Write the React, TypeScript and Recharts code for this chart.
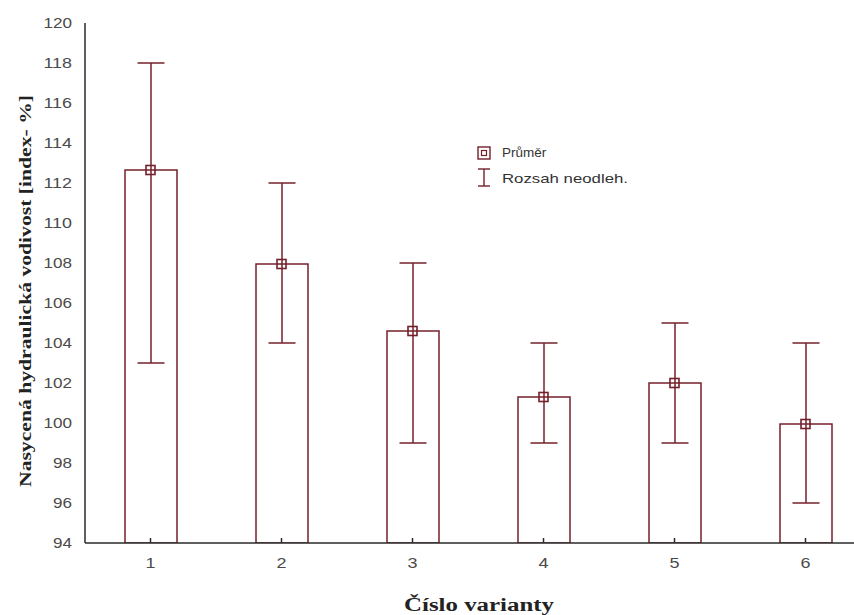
import { Bar, ComposedChart, ErrorBar, Line, XAxis, YAxis } from "recharts";

const variants = ["1", "2", "3", "4", "5", "6"];
const means = [112.65, 107.95, 104.6, 101.3, 102.0, 99.95];
const mins = [103, 104, 99, 99, 99, 96];
const maxs = [118, 112, 108, 104, 105, 104];
const yTicks = [94, 96, 98, 100, 102, 104, 106, 108, 110, 112, 114, 116, 118, 120];

const RED = "#74202a";
const AXIS = "#2a2a2a";
const TICK_TEXT = "#4a4a4a";

const data = variants.map((v, i) => ({
  variant: v,
  mean: means[i],
  range: [means[i] - mins[i], maxs[i] - means[i]],
}));

function YTick(props: any) {
  const { x, y, payload } = props;
  const s = String(payload.value);
  return (
    <text x={x} y={y} dy={5} textAnchor="end" fontFamily="Liberation Sans, Arial, sans-serif" fontSize={14} fill={TICK_TEXT} textLength={s.length * 9.5} lengthAdjust="spacingAndGlyphs">
      {s}
    </text>
  );
}

// mirrored axis: y arrives above the axis line, so push the label back below it
function XTick(props: any) {
  const { x, y, payload } = props;
  return (
    <text x={x} y={y + 30} textAnchor="middle" fontFamily="Liberation Sans, Arial, sans-serif" fontSize={15} fill={TICK_TEXT} textLength={10} lengthAdjust="spacingAndGlyphs">
      {payload.value}
    </text>
  );
}

function MeanMarker(props: any) {
  const { cx, cy } = props;
  if (cx == null || cy == null) return null;
  return <rect x={cx - 4.5} y={cy - 4.5} width={9} height={9} fill="none" stroke={RED} strokeWidth={1.6} />;
}

export default function App() {
  return (
    <div style={{ position: "absolute", left: 0, top: 0, width: 854, height: 615, overflow: "hidden", background: "#fff" }}>
      <ComposedChart width={871} height={615} data={data} margin={{ top: 23, right: 0, bottom: 72, left: 0 }}>
        <YAxis
          width={85}
          domain={[94, 120]}
          ticks={yTicks}
          interval={0}
          allowDataOverflow
          tick={<YTick />}
          tickLine={false}
          tickSize={0}
          tickMargin={13}
          axisLine={{ stroke: AXIS, strokeWidth: 1.5 }}
        />
        <Bar dataKey="mean" barSize={52} fill="none" stroke={RED} strokeWidth={1.5} isAnimationActive={false}>
          <ErrorBar dataKey="range" width={13.5} stroke={RED} strokeWidth={1.5} direction="y" />
        </Bar>
        <Line dataKey="mean" stroke="none" dot={<MeanMarker />} activeDot={false} isAnimationActive={false} legendType="none" />
        <XAxis
          dataKey="variant"
          height={30}
          mirror
          tick={<XTick />}
          tickLine={{ stroke: AXIS, strokeWidth: 1.5 }}
          tickSize={5}
          tickMargin={0}
          axisLine={{ stroke: AXIS, strokeWidth: 1.5 }}
        />
      </ComposedChart>
      <svg width={854} height={615} style={{ position: "absolute", left: 0, top: 0, pointerEvents: "none" }}>
        <text
          transform="translate(31,291) rotate(-90)"
          textAnchor="middle"
          fontFamily="Liberation Serif, Times New Roman, serif"
          fontWeight="bold"
          fontSize={17}
          fill="#222"
          textLength={392}
          lengthAdjust="spacingAndGlyphs"
        >
          Nasycená hydraulická vodivost [index- %]
        </text>
        <text x={479} y={611} textAnchor="middle" fontFamily="Liberation Serif, Times New Roman, serif" fontWeight="bold" fontSize={18} fill="#222" textLength={150} lengthAdjust="spacingAndGlyphs">
          Číslo varianty
        </text>
        <g>
          <rect x={478} y={147} width={12} height={12} fill="none" stroke={RED} strokeWidth={1.4} />
          <rect x={481.5} y={150.5} width={5} height={5} fill="none" stroke={RED} strokeWidth={1.2} />
          <text x={502} y={157} fontFamily="Liberation Sans, Arial, sans-serif" fontSize={13.5} fill="#333">
            Průměr
          </text>
          <line x1={484} x2={484} y1={169} y2={186} stroke={RED} strokeWidth={1.4} />
          <line x1={478} x2={490} y1={169} y2={169} stroke={RED} strokeWidth={1.4} />
          <line x1={478} x2={490} y1={186} y2={186} stroke={RED} strokeWidth={1.4} />
          <text x={502} y={183} fontFamily="Liberation Sans, Arial, sans-serif" fontSize={13.5} fill="#333" textLength={126} lengthAdjust="spacingAndGlyphs">
            Rozsah neodleh.
          </text>
        </g>
      </svg>
    </div>
  );
}
